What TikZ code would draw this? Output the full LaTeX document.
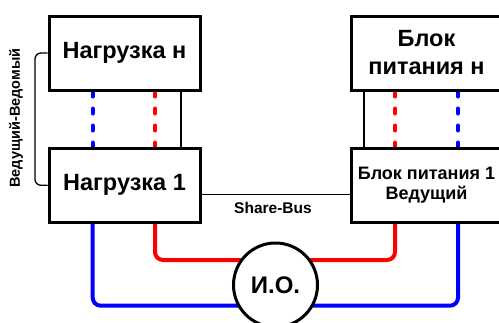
\documentclass[tikz,border=0pt]{standalone}
\usepackage{fontspec}
\setmainfont{Liberation Sans}
\usetikzlibrary{backgrounds}
\tikzset{
  box/.style={draw=black, line width=3pt, fill=white, minimum width=151pt, minimum height=74pt, inner sep=0pt, align=center, font=\bfseries\fontsize{23.5}{28}\selectfont},
  smallbox/.style={box, font=\bfseries\fontsize{18}{19.5}\selectfont},
  thinline/.style={draw=black, line width=1.3pt},
  dashblue/.style={draw=blue, line width=4pt, line cap=round, dash pattern=on 5pt off 12pt},
  dashred/.style={draw=red, line width=4pt, line cap=round, dash pattern=on 5pt off 12pt},
  redline/.style={draw=red, line width=4pt, rounded corners=8pt},
  blueline/.style={draw=blue, line width=4pt, rounded corners=8pt},
  loadcircle/.style={circle, draw=black, line width=3pt, fill=white, minimum size=84pt, inner sep=0pt, font=\bfseries\fontsize{24}{28}\selectfont},
  lbl/.style={font=\bfseries\fontsize{15.5}{17}\selectfont, inner sep=0pt},
  sidelbl/.style={font=\bfseries\fontsize{14.5}{16}\selectfont, inner sep=0pt}
}
\begin{document}
\begin{tikzpicture}[x=1pt,y=-1pt]
\useasboundingbox (0,0) rectangle (499,322);
\clip (0,0) rectangle (499,322);
\node[box] (ln) at (124.5,53) {Нагрузка н};
\node[box] (l1) at (124.5,185.3) {Нагрузка 1};
\node[box] (pn) at (426.5,53) {Блок\\питания н};
\node[smallbox] (p1) at (426.5,185.3) {Блок питания 1\\Ведущий};
\node[loadcircle] (io) at (275.5,285) {И.О.};
\begin{scope}[on background layer]
  % dashed connections
  \draw[dashblue] (ln.south -| 92.7,0) -- (l1.north -| 92.7,0);
  \draw[dashred] (ln.south -| 155,0) -- (l1.north -| 155,0);
  \draw[dashred] (pn.south -| 395,0) -- (p1.north -| 395,0);
  \draw[dashblue] (pn.south -| 458,0) -- (p1.north -| 458,0);
  % thin links
  \draw[thinline] (ln.south -| 181,0) -- (l1.north -| 181,0);
  \draw[thinline] (pn.south -| 364,0) -- (p1.north -| 364,0);
  % power lines
  \draw[redline] (l1.south -| 155,0) -- (155,260) -- (io.center |- 0,260);
  \draw[redline] (p1.south -| 395,0) -- (395,260) -- (io.center |- 0,260);
  \draw[blueline] (l1.south -| 92.7,0) -- (92.7,305.7) -- (io.center |- 0,305.7);
  \draw[blueline] (p1.south -| 458,0) -- (458,305.7) -- (io.center |- 0,305.7);
\end{scope}
% share bus
\draw[thinline] (l1.east |- 0,194.7) -- (p1.west |- 0,194.7);
\node[lbl] (sb) at (273,208) {Share-Bus};
% master-slave bracket
\draw[thinline, rounded corners=6pt] (ln.west) -- (35,53) -- (35,185.3) -- (l1.west);
\node[sidelbl, rotate=90] (ms) at (16,118) {Ведущий-Ведомый};
\end{tikzpicture}
\end{document}
